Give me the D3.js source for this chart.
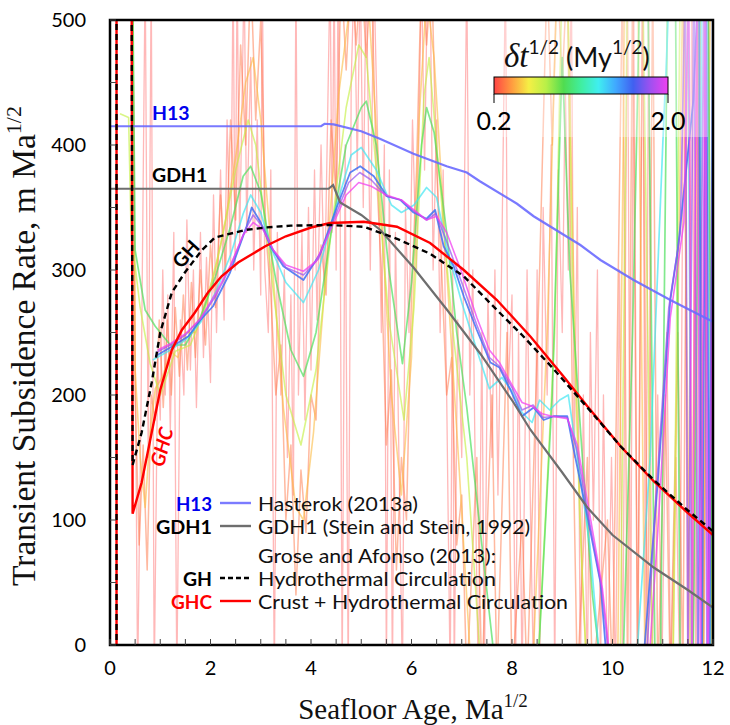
<!DOCTYPE html>
<html><head><meta charset="utf-8">
<script src="https://cdn.jsdelivr.net/npm/d3@7"></script>
<style>body{margin:0;background:#fff} svg{display:block}</style>
</head><body>
<svg id="c" width="730" height="725"></svg>
<script>
// ---------- data ----------
const xTicks = [0, 2, 4, 6, 8, 10, 12];
const yTicks = [0, 100, 200, 300, 400, 500];
const xMinor = d3.range(0, 12.01, 0.5);
const yMinor = d3.range(0, 500.1, 50);
const cbTicks = [0.2, 2.0];
const cbStops = [[0,"#ff4444"],[0.1,"#ff9a40"],[0.2,"#f5ef45"],[0.3,"#b8f048"],[0.4,"#50dc50"],[0.5,"#40eea0"],[0.6,"#40eef0"],[0.7,"#40a8ff"],[0.8,"#4060f0"],[0.9,"#a050f0"],[1,"#f040f0"]];

const h13 = [[0,415],[4.2,415],[4.27,417],[4.45,416.5],[5.0,411],[5.37,405],[6.04,393],[6.7,383],[7.1,378],[7.36,371],[8.1,353],[8.43,343],[9.36,320],[9.76,308],[10.42,292],[11.15,276],[12,258.6]];
const gdh1 = [[0,365],[4.35,365],[4.44,368],[4.58,354],[5.0,344],[5.38,332],[6.04,302],[6.71,268],[7.37,233],[8.03,194],[8.37,172],[9.0,138],[9.5,110],[10.0,88],[10.82,62],[11.5,44],[12,30]];
const gh = [[0.13,-20],[0.13,540],[0.43,540],[0.45,144],[0.63,170],[0.83,210],[1.0,250],[1.23,282],[1.49,298],[1.83,316],[2.09,326],[2.69,332],[3.09,334],[3.6,335.5],[4.38,336],[5.05,334.6],[5.71,325],[6.37,313],[7.04,295],[7.7,268],[8.2,248],[8.8,222],[9.5,190],[10.16,159],[10.82,132],[11.49,108],[12,91]];
const ghc = [[0.13,-20],[0.13,540],[0.43,540],[0.45,105],[0.63,130],[0.83,170],[1.0,204],[1.23,236],[1.43,252],[1.69,266],[1.95,282],[2.22,295],[2.55,306],[3.09,319],[3.5,327],[4.0,334],[4.38,337.6],[5.05,338.6],[5.71,334.6],[6.37,321.6],[7.04,300],[7.7,276],[8.37,246.6],[9.03,214.6],[9.5,191],[10.16,159],[10.82,131],[11.49,106],[12,88]];

// transient rate curves for each smoothing window dt^1/2
const dt020 = [[0.45,540],[0.5,250],[0.55,-30],[0.62,200],[0.7,540],[0.76,150],[0.82,540],[0.88,-30],[0.95,230],[1.0,180],[1.05,300],[1.1,200],[1.15,280],[1.2,170],[1.27,330],[1.33,-30],[1.4,260],[1.47,200],[1.53,340],[1.6,220],[1.66,300],[1.72,190],[1.8,330],[1.86,230],[1.92,310],[2.0,210],[2.06,360],[2.12,250],[2.2,380],[2.27,260],[2.33,420],[2.4,300],[2.45,540],[2.49,300],[2.53,540],[2.58,320],[2.67,540],[2.72,330],[2.8,470],[2.86,300],[2.93,420],[3.0,280],[3.03,540],[3.08,300],[3.15,250],[3.2,380],[3.27,-30],[3.33,330],[3.4,200],[3.47,300],[3.53,150],[3.6,280],[3.65,120],[3.7,540],[3.75,200],[3.82,330],[3.88,180],[3.95,350],[4.0,220],[4.07,380],[4.12,260],[4.2,400],[4.27,280],[4.33,420],[4.38,540],[4.42,330],[4.46,540],[4.5,300],[4.54,540],[4.58,350],[4.62,-30],[4.68,400],[4.74,-30],[4.8,450],[4.86,540],[4.92,380],[4.98,540],[5.04,350],[5.1,540],[5.18,300],[5.25,540],[5.34,380],[5.4,250],[5.46,400],[5.5,-30],[5.56,380],[5.62,-30],[5.68,330],[5.75,150],[5.82,-30],[5.88,350],[5.95,250],[6.02,420],[6.1,300],[6.2,540],[6.26,380],[6.32,540],[6.37,540],[6.43,300],[6.5,420],[6.57,250],[6.63,380],[6.7,200],[6.77,-30],[6.82,300],[6.85,-30],[6.92,260],[7.0,150],[7.05,350],[7.1,540],[7.16,200],[7.22,300],[7.28,100],[7.33,-30],[7.4,250],[7.45,-30],[7.52,280],[7.6,150],[7.66,300],[7.72,120],[7.8,320],[7.87,540],[7.92,200],[8.0,280],[8.07,-30],[8.13,250],[8.2,-30],[8.3,300],[8.37,100],[8.43,-30],[8.5,300],[8.55,-30],[8.62,350],[8.7,200],[8.78,400],[8.85,-30],[8.92,380],[9.0,250],[9.06,450],[9.12,300],[9.18,540],[9.24,150],[9.3,350],[9.36,-30],[9.42,200],[9.5,-30],[9.56,250],[9.62,100],[9.7,300],[9.76,-30],[9.82,200],[9.9,-30],[9.98,150],[10.06,-30],[10.14,300],[10.2,-30],[10.3,540],[10.36,-30],[10.42,540],[10.5,-30],[10.6,540],[10.66,-30],[10.72,540],[10.78,-30],[10.9,200],[10.98,-30],[11.08,250],[11.16,-30],[11.26,150],[11.34,-30],[11.42,540],[11.5,-30],[11.58,540],[11.66,-30],[11.74,540],[11.82,-30],[11.9,540],[11.97,-30],[12,540]];
const dt030 = [[0.45,540],[0.5,200],[0.58,80],[0.66,160],[0.74,60],[0.82,200],[0.9,180],[0.98,260],[1.06,190],[1.14,260],[1.22,200],[1.3,270],[1.38,215],[1.46,280],[1.54,220],[1.62,290],[1.7,230],[1.8,300],[1.9,240],[2.0,320],[2.1,270],[2.2,360],[2.3,300],[2.4,420],[2.5,340],[2.6,480],[2.7,400],[2.8,540],[2.9,420],[3.0,500],[3.1,330],[3.2,280],[3.3,200],[3.4,240],[3.5,100],[3.6,160],[3.7,40],[3.8,140],[3.9,90],[4.0,200],[4.1,180],[4.2,320],[4.3,280],[4.4,420],[4.5,360],[4.6,540],[4.7,460],[4.8,540],[4.9,480],[5.0,540],[5.1,470],[5.2,540],[5.3,380],[5.4,300],[5.5,160],[5.6,220],[5.7,60],[5.8,150],[5.9,100],[6.0,280],[6.1,380],[6.2,540],[6.3,480],[6.4,540],[6.5,380],[6.6,300],[6.7,200],[6.8,230],[6.9,80],[7.0,120],[7.1,-30],[7.3,150],[7.4,-30],[7.6,200],[7.7,-30],[7.9,250],[8.0,-30],[8.2,100],[8.3,-30],[8.55,300],[8.7,540],[8.8,400],[8.9,540],[9.0,450],[9.1,540],[9.2,200],[9.3,-30],[9.5,150],[9.6,-30],[9.9,100],[10.0,-30],[10.2,540],[10.3,-30],[10.4,540],[10.5,-30],[10.6,540],[10.7,-30],[10.8,540],[10.9,-30],[11.05,200],[11.15,-30],[11.3,250],[11.4,-30],[11.5,540],[11.6,-30],[11.7,540],[11.8,-30],[11.9,540],[12.0,-30]];
const dt045 = [[0.45,540],[0.5,220],[0.6,150],[0.7,110],[0.8,170],[0.9,205],[1.05,215],[1.2,235],[1.35,230],[1.5,250],[1.7,250],[1.9,275],[2.1,300],[2.3,340],[2.5,390],[2.7,450],[2.85,470],[3.0,420],[3.2,320],[3.45,190],[3.7,110],[3.85,100],[4.05,170],[4.3,300],[4.55,440],[4.8,520],[5.0,540],[5.15,510],[5.35,380],[5.6,200],[5.8,120],[6.0,230],[6.15,420],[6.3,520],[6.45,470],[6.7,300],[6.95,140],[7.2,-30],[8.4,-30],[8.7,250],[8.9,540],[9.1,540],[9.25,250],[9.4,50],[9.5,-30],[10.1,-30],[10.25,540],[10.5,540],[10.65,-30],[11.2,-30],[11.4,540],[11.55,-30],[11.7,540],[11.8,-30],[11.95,540],[12.0,540]];
const dt070 = [[0.2,425],[0.37,422],[0.42,330],[0.6,270],[0.8,225],[1.0,200],[1.3,235],[1.6,240],[1.9,270],[2.2,320],[2.5,380],[2.75,420],[2.9,400],[3.2,300],[3.5,200],[3.8,160],[4.1,220],[4.4,330],[4.7,430],[4.95,480],[5.1,470],[5.3,380],[5.55,260],[5.85,180],[6.05,270],[6.25,440],[6.35,470],[6.5,400],[6.8,260],[7.1,150],[7.4,-30],[8.5,-30],[8.85,250],[9.0,540],[9.1,540],[9.2,300],[9.35,100],[9.5,-30],[10.15,-30],[10.3,540],[10.6,540],[10.8,-30],[11.2,-30],[11.35,540],[11.7,540],[11.8,-30],[11.95,-30],[12.0,300]];
const dt095 = [[0.45,540],[0.5,316],[0.7,268],[0.9,255],[1.2,240],[1.5,240],[1.8,262],[2.1,295],[2.4,335],[2.65,375],[2.8,383],[3.0,362],[3.3,292],[3.6,236],[3.85,215],[4.1,250],[4.4,330],[4.7,400],[5.0,430],[5.1,435],[5.3,400],[5.55,300],[5.82,225],[6.0,290],[6.2,400],[6.3,430],[6.45,410],[6.7,330],[6.9,250],[7.1,190],[7.4,80],[7.7,-30],[8.5,-30],[8.8,200],[9.0,470],[9.15,300],[9.4,150],[9.6,40],[9.8,-30],[10.2,-30],[10.4,250],[10.55,540],[10.7,540],[10.85,-30],[10.95,-30],[11.1,540],[11.25,540],[11.35,-30],[11.6,-30],[11.75,540],[11.9,540],[12.0,-30]];
const dt130 = [[0.85,228],[1.2,236],[1.5,244],[1.8,258],[2.1,282],[2.4,312],[2.65,345],[2.8,360],[3.0,346],[3.2,318],[3.5,290],[3.85,274],[4.15,300],[4.5,350],[4.8,392],[5.0,398],[5.3,380],[5.6,352],[5.8,346],[6.05,352],[6.3,366],[6.5,358],[6.7,318],[7.0,274],[7.3,236],[7.55,205],[7.8,214],[8.0,203],[8.2,186],[8.4,178],[8.55,196],[8.75,188],[8.95,196],[9.12,200],[9.3,150],[9.55,80],[9.78,-30],[10.45,-30],[10.75,150],[11.0,400],[11.15,540],[11.5,540],[11.58,-30],[11.7,-30],[11.78,540],[11.88,540],[11.95,-30]];
const dt160 = [[0.9,231],[1.2,238],[1.56,247],[1.8,260],[2.05,271],[2.39,298],[2.72,335],[2.82,350],[3.0,338],[3.19,319],[3.45,303],[3.85,292],[4.18,313],[4.52,351],[4.78,378],[4.98,383],[5.25,375],[5.51,359],[5.78,356],[6.04,346],[6.3,341],[6.47,348],[6.64,319],[6.84,303],[7.04,279],[7.3,252],[7.57,226],[7.75,222],[7.97,204],[8.2,183],[8.43,190],[8.63,180],[8.83,183],[9.1,183],[9.23,156],[9.5,103],[9.76,50],[9.92,-30],[10.58,-30],[10.9,130],[11.15,276],[11.3,316],[11.61,436],[11.72,540],[11.78,-30],[11.86,540],[11.93,-30],[12.0,540]];
const dt180 = [[0.92,234],[1.2,240],[1.5,248],[1.8,261],[2.1,279],[2.4,303],[2.7,333],[2.85,344],[3.05,334],[3.25,316],[3.5,302],[3.85,296],[4.15,309],[4.45,340],[4.75,370],[4.97,378],[5.2,372],[5.5,359],[5.8,356],[6.05,347],[6.3,340],[6.48,345],[6.68,325],[7.0,290],[7.3,256],[7.55,230],[7.75,223],[8.0,206],[8.2,188],[8.42,192],[8.62,182],[8.85,183],[9.1,182],[9.28,158],[9.52,103],[9.78,47],[9.98,-30],[10.65,-30],[10.85,110],[11.12,270],[11.35,330],[11.45,540],[11.5,-30],[11.62,540],[11.7,-30],[11.82,540],[11.88,-30],[12.0,400]];
const dt200 = [[0.95,236],[1.2,241],[1.5,249],[1.8,261],[2.1,281],[2.4,304],[2.65,328],[2.85,338],[3.05,332],[3.25,316],[3.5,304],[3.85,299],[4.1,307],[4.4,333],[4.7,360],[4.95,370],[5.2,367],[5.5,360],[5.8,356],[6.05,348],[6.3,340],[6.5,343],[6.7,330],[7.0,298],[7.3,262],[7.55,236],[7.75,226],[8.0,208],[8.2,194],[8.4,191],[8.6,185],[8.8,183],[9.1,181],[9.3,160],[9.55,104],[9.8,45],[10.0,-30],[10.7,-30],[10.9,90],[11.15,262],[11.42,338],[11.52,540],[11.58,-30],[11.68,540],[11.75,-30],[11.85,540],[11.9,-30],[12.0,300]];

const family = [
  {dt:0.2, pts:dt020, w:1.3, op:0.38},
  {dt:0.3, pts:dt030, w:1.5, op:0.5},
  {dt:0.45, pts:dt045, w:1.6, op:0.6},
  {dt:0.7, pts:dt070, w:1.6, op:0.65},
  {dt:0.95, pts:dt095, w:1.7, op:0.7},
  {dt:1.3, pts:dt130, w:1.7, op:0.7},
  {dt:1.6, pts:dt160, w:1.8, op:0.85},
  {dt:1.8, pts:dt180, w:1.6, op:0.7},
  {dt:2.0, pts:dt200, w:1.6, op:0.75}
];

// legend rows
const legKeys = ["H13", "GDH1", "", "GH", "GHC"];
const legTexts = ["Hasterok (2013a)", "GDH1 (Stein and Stein, 1992)", "Grose and Afonso (2013):", "Hydrothermal Circulation", "Crust + Hydrothermal Circulation"];

// ---------- setup ----------
const svg = d3.select("#c");
const x = d3.scaleLinear().domain([0,12]).range([110,713]);
const y = d3.scaleLinear().domain([0,500]).range([645,20]);
const cFrac = d3.scaleLinear().domain(cbStops.map(d=>d[0])).range(cbStops.map(d=>d[1])).interpolate(d3.interpolateRgb);
const dtToFrac = d3.scaleLinear().domain([0.2,2.0]).range([0,1]);
const colorDt = dt => cFrac(dtToFrac(dt));
const SANS = "Lato, 'Open Sans', sans-serif";
const SERIF = "'Liberation Serif', 'Times New Roman', serif";

const defs = svg.append("defs");
defs.append("clipPath").attr("id","clip").append("rect")
  .attr("x",x(0)).attr("y",y(500)).attr("width",x(12)-x(0)).attr("height",y(0)-y(500));
const grad = defs.append("linearGradient").attr("id","cb").attr("x1","0%").attr("x2","100%");
cbStops.forEach(s=>grad.append("stop").attr("offset",(s[0]*100)+"%").attr("stop-color",s[1]));

const line = d3.line().x(d=>x(d[0])).y(d=>y(d[1]));
const plot = svg.append("g").attr("clip-path","url(#clip)");

family.forEach(f=>{
  plot.append("path").attr("d",line(f.pts)).attr("fill","none")
    .attr("stroke",colorDt(f.dt)).attr("stroke-width",f.w).attr("stroke-opacity",f.op)
    .attr("stroke-linejoin","round");
});

// white veil behind colour bar
plot.append("rect").attr("x",472).attr("y",20).attr("width",236).attr("height",117)
  .attr("fill","#fff").attr("fill-opacity",0.35);

plot.append("path").attr("d",line(h13)).attr("fill","none").attr("stroke","#6a6aff").attr("stroke-opacity",0.9).attr("stroke-width",2.2);
plot.append("path").attr("d",line(gdh1)).attr("fill","none").attr("stroke","#6e6e6e").attr("stroke-width",2.2);
plot.append("path").attr("d",line(ghc)).attr("fill","none").attr("stroke","#ff0000").attr("stroke-width",2.4);
plot.append("path").attr("d",line(gh)).attr("fill","none").attr("stroke","#000").attr("stroke-width",2.4).attr("stroke-dasharray","6,4");

// ---------- frame & ticks ----------
svg.append("rect").attr("x",x(0)).attr("y",y(500)).attr("width",x(12)-x(0)).attr("height",y(0)-y(500))
  .attr("fill","none").attr("stroke","#000").attr("stroke-width",2.5);
svg.append("g").selectAll("line").data(xMinor).join("line")
  .attr("x1",d=>x(d)).attr("x2",d=>x(d)).attr("y1",y(0)).attr("y2",y(0)-6).attr("stroke","#444").attr("stroke-width",1);
svg.append("g").selectAll("line").data(yMinor).join("line")
  .attr("x1",x(0)).attr("x2",x(0)+6).attr("y1",d=>y(d)).attr("y2",d=>y(d)).attr("stroke","#444").attr("stroke-width",1);

svg.append("g").selectAll("text").data(xTicks).join("text")
  .attr("x",d=>x(d)).attr("y",675).attr("text-anchor","middle")
  .attr("font-family",SANS).attr("font-size",20).text(d=>d);
svg.append("g").selectAll("text").data(yTicks).join("text")
  .attr("x",86).attr("y",d=>y(d)+7).attr("text-anchor","end")
  .attr("font-family",SANS).attr("font-size",20).text(d=>d);

// axis titles
const xt = svg.append("text").attr("x",413).attr("y",719).attr("text-anchor","middle")
  .attr("font-family",SERIF).attr("font-size",29).attr("fill","#111");
xt.append("tspan").text("Seafloor Age, Ma");
xt.append("tspan").attr("font-size",19).attr("dy",-12).text("1/2");
const yt = svg.append("text").attr("transform","translate(35,346) rotate(-90)").attr("text-anchor","middle")
  .attr("font-family",SERIF).attr("font-size",33.5).attr("fill","#111");
yt.append("tspan").text("Transient Subsidence Rate, m Ma");
yt.append("tspan").attr("font-size",22).attr("dy",-14).text("1/2");

// ---------- curve labels ----------
svg.append("text").attr("x",152).attr("y",120).attr("font-family",SANS).attr("font-weight","bold")
  .attr("font-size",19.5).attr("fill","#0000ee").text("H13");
svg.append("text").attr("x",152).attr("y",182).attr("font-family",SANS).attr("font-weight","bold")
  .attr("font-size",19.5).attr("fill","#000").text("GDH1");
svg.append("text").attr("transform","translate(186,254) rotate(-48)").attr("text-anchor","middle").attr("dy","0.35em")
  .attr("font-family",SANS).attr("font-weight","bold").attr("font-size",19.5).attr("fill","#000").text("GH");
svg.append("text").attr("transform","translate(162,447) rotate(-75)").attr("text-anchor","middle").attr("dy","0.35em")
  .attr("font-family",SANS).attr("font-weight","bold").attr("font-style","italic").attr("font-size",19.5).attr("fill","#ff0000").text("GHC");

// ---------- legend ----------
const legStyle = [
  {kc:"#0000ee", by:511, stroke:"#7b7bff", dash:null, w:160, kw:36},
  {kc:"#000", by:534, stroke:"#6e6e6e", dash:null, w:272, kw:56},
  {kc:"#000", by:563, stroke:null, dash:null, w:238, kw:0},
  {kc:"#000", by:586, stroke:"#000", dash:"5,3", w:238, kw:29},
  {kc:"#ff0000", by:609, stroke:"#ff0000", dash:null, w:310, kw:41}
];
const lg = svg.append("g");
legTexts.forEach((t,i)=>{
  const s = legStyle[i];
  if(legKeys[i]) lg.append("text").attr("x",212).attr("y",s.by).attr("text-anchor","end").attr("font-family",SANS)
    .attr("font-weight","bold").attr("font-size",19).attr("textLength",s.kw)
    .attr("lengthAdjust","spacingAndGlyphs").attr("fill",s.kc).text(legKeys[i]);
  if(s.stroke) lg.append("line").attr("x1",220).attr("x2",251).attr("y1",s.by-8).attr("y2",s.by-8)
    .attr("stroke",s.stroke).attr("stroke-width",2.4).attr("stroke-dasharray",s.dash);
  lg.append("text").attr("x",258).attr("y",s.by).attr("font-family",SANS).attr("font-size",19)
    .attr("textLength",s.w).attr("lengthAdjust","spacingAndGlyphs").attr("fill","#111").text(t);
});

// ---------- colour bar ----------
const cbx = d3.scaleLinear().domain([0.2,2.0]).range([494,668]);
svg.append("rect").attr("x",cbx(0.2)).attr("y",77).attr("width",cbx(2.0)-cbx(0.2)).attr("height",17)
  .attr("fill","url(#cb)").attr("stroke","#000").attr("stroke-width",1);
svg.append("g").selectAll("line").data(cbTicks).join("line")
  .attr("x1",d=>cbx(d)).attr("x2",d=>cbx(d)).attr("y1",94).attr("y2",103).attr("stroke","#000").attr("stroke-width",1);
svg.append("g").selectAll("text").data(cbTicks).join("text")
  .attr("x",d=>cbx(d)).attr("y",130).attr("text-anchor","middle").attr("font-family",SANS).attr("font-size",25)
  .text(d=>d.toFixed(1));
const ct = svg.append("text").attr("x",504).attr("y",67).attr("font-family",SANS).attr("font-size",27).attr("fill","#111");
ct.append("tspan").attr("font-family",SERIF).attr("font-style","italic").attr("font-size",33).text("δt");
ct.append("tspan").attr("font-size",19).attr("dy",-13).text("1/2");
ct.append("tspan").attr("dy",13).text(" (My");
ct.append("tspan").attr("font-size",19).attr("dy",-13).text("1/2");
ct.append("tspan").attr("dy",13).text(")");
</script></body></html>
